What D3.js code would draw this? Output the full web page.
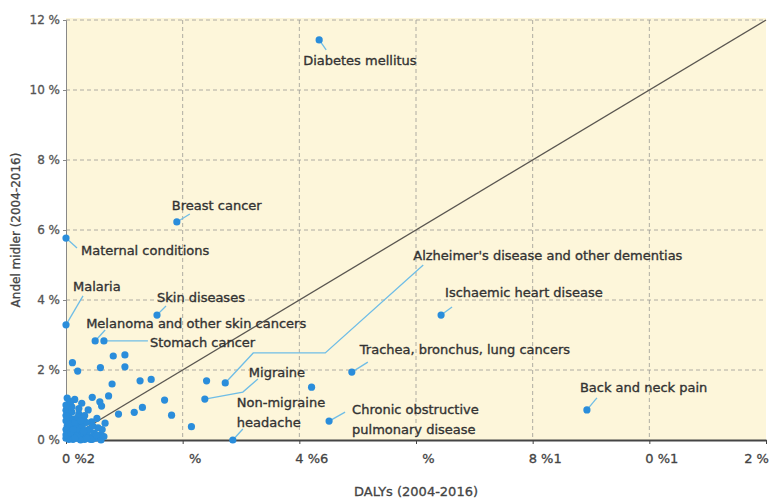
<!DOCTYPE html>
<html>
<head>
<meta charset="utf-8">
<script src="https://cdn.jsdelivr.net/npm/d3@7"></script>
<style>
  body { margin: 0; background: #fff; }
  text { font-family: "DejaVu Sans", "Noto Sans", sans-serif; }
</style>
</head>
<body>
<div id="viz"></div>
<script>
const margin = {top: 20, right: 9, bottom: 64, left: 66};
const width = 775;
const height = 504;

// tick labels as printed in the source
const xTicks = [0, 2, 4, 6, 8, 10, 12];
const xTickLabels = ['0 %2', '%', '4 %6', '%', '8 %1', '0 %1', '2 %'];
const yTicks = [0, 2, 4, 6, 8, 10, 12];
const yTickLabels = ['0 %', '2 %', '4 %', '6 %', '8 %', '10 %', '12 %'];

// labelled diseases
const names = ['Diabetes mellitus', 'Breast cancer', 'Maternal conditions', 'Malaria', 'Skin diseases',
  'Melanoma and other skin cancers', 'Stomach cancer', "Alzheimer's disease and other dementias",
  'Migraine', 'Non-migraine headache', 'Trachea, bronchus, lung cancers',
  'Chronic obstructive pulmonary disease', 'Ischaemic heart disease', 'Back and neck pain'];
const namedX = [4.34, 1.90, 0.0, 0.0, 1.56, 0.50, 0.65, 2.73, 2.38, 2.86, 4.90, 4.51, 6.43, 8.93];
const namedY = [11.43, 6.23, 5.77, 3.29, 3.57, 2.83, 2.83, 1.63, 1.17, 0.0, 1.94, 0.54, 3.57, 0.86];

// unlabelled diseases
const otherX = [0.81, 1.01, 0.11, 0.20, 0.59, 1.01, 0.79, 1.27, 1.46, 0.73, 1.69, 1.81, 1.31, 1.17, 0.90,
  0.58, 0.45, 0.61, 0.38, 0.15, 0.27, 0.07, 0.53, 0.44, 0.38, 0.67, 0.55, 2.41, 4.21, 2.15,
  0.02, 0.05, 0.03, 0.08, 0.02, 0.10, 0.05, 0.15, 0.02, 0.10, 0.20, 0.30, 0.25, 0.40, 0.50, 0.35,
  0.20, 0.12, 0.18, 0.28, 0.30, 0.22, 0.05, 0.12, 0.45, 0.60, 0.62, 0.0, 0.0, 0.0, 0.0, 0.35, 0.10, 0.32,
  0.0, 0.05, 0.08, 0.15, 0.20, 0.25, 0.18, 0.40, 0.48, 0.55, 0.30, 0.05, 0.0, 0.10, 0.0, 0.60, 0.65,
  0.12, 0.22, 0.32, 0.42, 0.08, 0.15, 0.25, 0.02, 0.36, 0.46, 0.52];
const otherY = [2.40, 2.43, 2.21, 1.97, 2.07, 2.09, 1.60, 1.69, 1.73, 1.26, 1.14, 0.71, 0.93, 0.79, 0.74,
  1.09, 1.22, 0.97, 0.86, 1.16, 1.05, 1.00, 0.62, 0.52, 0.29, 0.48, 0.09, 1.69, 1.51, 0.38,
  0.90, 0.75, 0.60, 0.50, 0.40, 0.35, 0.25, 0.20, 0.15, 0.10, 0.05, 0.08, 0.15, 0.10, 0.05, 0.20,
  0.30, 0.60, 0.45, 0.40, 0.60, 0.75, 0.02, 0.02, 0.02, 0.15, 0.30, 0.05, 0.30, 0.55, 0.85, 0.50, 0.80, 0.02,
  0.15, 0.45, 0.20, 0.50, 0.65, 0.00, 0.12, 0.30, 0.20, 0.35, 0.25, 1.05, 0.70, 0.95, 1.00, 0.00, 0.10,
  0.30, 0.90, 0.70, 0.02, 1.10, 0.05, 0.55, 1.20, 0.05, 0.40, 0.15];

// label placement (pixels relative to the point): text start, text baseline, leader bends
const labelLayout = {
  'Diabetes mellitus': {tx: -16, ty: 25, leader: [[7, 10]]},
  'Breast cancer': {tx: -5, ty: -12, leader: [[13, -8]]},
  'Maternal conditions': {tx: 15, ty: 17, leader: [[11, 10]]},
  'Malaria': {tx: 7, ty: -34, leader: [[17, -29]]},
  'Skin diseases': {tx: 0, ty: -13, leader: [[9, -9]]},
  'Melanoma and other skin cancers': {tx: -9, ty: -13, leader: [[10, -11]]},
  'Stomach cancer': {tx: 46, ty: 6, leader: [[44, 0]]},
  "Alzheimer's disease and other dementias": {tx: 188, ty: -123, leader: [[28, -30], [100, -30], [198, -118]]},
  'Migraine': {tx: 44, ty: -22, leader: [[38, -7], [53, -20]]},
  'Non-migraine headache': {tx: 4, ty: -33, lines: ['Non-migraine', 'headache'], leader: [[10, -11]]},
  'Trachea, bronchus, lung cancers': {tx: 8, ty: -18, leader: [[16, -10]]},
  'Chronic obstructive pulmonary disease': {tx: 23, ty: -7, lines: ['Chronic obstructive', 'pulmonary disease'], leader: [[16, -9]]},
  'Ischaemic heart disease': {tx: 4, ty: -18, leader: [[11, -8]]},
  'Back and neck pain': {tx: -7, ty: -18, leader: [[10, -12]]}
};

const named = names.map((n, i) => ({name: n, x: namedX[i], y: namedY[i]}));
const others = otherX.map((x, i) => ({x: x, y: otherY[i]}));

const xScale = d3.scaleLinear().domain([0, 12]).range([margin.left, width - margin.right]);
const yScale = d3.scaleLinear().domain([0, 12]).range([height - margin.bottom, margin.top]);

const svg = d3.select('#viz').append('svg')
  .attr('width', width)
  .attr('height', height);

svg.append('rect')
  .attr('x', xScale(0))
  .attr('y', yScale(12) - 2)
  .attr('width', xScale(12) - xScale(0))
  .attr('height', yScale(0) - yScale(12) + 2)
  .attr('fill', '#fdf6da');

// grid
svg.append('g')
  .selectAll('line')
  .data(yTicks.filter(d => d > 0))
  .join('line')
  .attr('x1', xScale(0)).attr('x2', xScale(12))
  .attr('y1', d => yScale(d)).attr('y2', d => yScale(d))
  .attr('stroke', '#9a9a94').attr('stroke-width', 0.8).attr('stroke-dasharray', '4,3');

svg.append('g')
  .selectAll('line')
  .data(xTicks.filter(d => d > 0 && d < 12))
  .join('line')
  .attr('x1', d => xScale(d)).attr('x2', d => xScale(d))
  .attr('y1', yScale(12)).attr('y2', yScale(0))
  .attr('stroke', '#9a9a94').attr('stroke-width', 0.8).attr('stroke-dasharray', '4,3');

// axes
const yAxis = svg.append('g')
  .attr('transform', `translate(${xScale(0)},0)`)
  .call(d3.axisLeft(yScale).tickValues(yTicks).tickFormat((d, i) => yTickLabels[i]).tickSize(3));
yAxis.select('.domain').attr('stroke', '#888').attr('stroke-width', 1);
yAxis.selectAll('.tick line').attr('stroke', '#888');
yAxis.selectAll('text')
  .attr('fill', '#555').attr('font-size', 12).attr('font-family', '"DejaVu Sans"')
  .attr('stroke', '#555').attr('stroke-width', 0.3);

const xAxis = svg.append('g')
  .attr('transform', `translate(0,${yScale(0)})`)
  .call(d3.axisBottom(xScale).tickValues(xTicks).tickFormat((d, i) => xTickLabels[i]).tickSize(4).tickSizeOuter(0));
xAxis.select('.domain').attr('stroke', '#444').attr('stroke-width', 2.2);
xAxis.selectAll('.tick line').attr('stroke', '#444');
xAxis.selectAll('text')
  .attr('fill', '#444').attr('font-size', 13).attr('font-family', '"DejaVu Sans"')
  .attr('stroke', '#444').attr('stroke-width', 0.3)
  .attr('dy', '1.2em')
  .attr('dx', (d, i) => i === xTicks.length - 1 ? -10 : 12);

svg.append('text')
  .attr('x', (xScale(0) + xScale(12)) / 2)
  .attr('y', height - 8)
  .attr('text-anchor', 'middle')
  .attr('fill', '#444').attr('font-size', 13)
  .attr('stroke', '#444').attr('stroke-width', 0.3)
  .text('DALYs (2004-2016)');

svg.append('text')
  .attr('transform', `translate(20,${(yScale(0) + yScale(12)) / 2}) rotate(-90)`)
  .attr('text-anchor', 'middle')
  .attr('fill', '#444').attr('font-size', 12)
  .attr('stroke', '#444').attr('stroke-width', 0.3)
  .text('Andel midler (2004-2016)');

// diagonal y = x
svg.append('line')
  .attr('x1', xScale(0)).attr('y1', yScale(0))
  .attr('x2', xScale(12)).attr('y2', yScale(12))
  .attr('stroke', '#5a5650').attr('stroke-width', 1.3);

// leader lines
const line = d3.line();
svg.append('g')
  .selectAll('path')
  .data(named)
  .join('path')
  .attr('d', d => {
    const px = xScale(d.x), py = yScale(d.y);
    return line([[px, py]].concat(labelLayout[d.name].leader.map(p => [px + p[0], py + p[1]])));
  })
  .attr('fill', 'none')
  .attr('stroke', '#6fbde6')
  .attr('stroke-width', 1.3);

// points
svg.append('g')
  .selectAll('circle')
  .data(others.concat(named))
  .join('circle')
  .attr('cx', d => xScale(d.x))
  .attr('cy', d => yScale(d.y))
  .attr('r', 3.6)
  .attr('fill', '#2a8ddb');

// labels
const labels = svg.append('g')
  .selectAll('text')
  .data(named)
  .join('text')
  .attr('x', d => xScale(d.x) + labelLayout[d.name].tx)
  .attr('y', d => yScale(d.y) + labelLayout[d.name].ty)
  .attr('fill', '#333')
  .attr('stroke', '#333')
  .attr('stroke-width', 0.35)
  .attr('font-size', 13);

labels.each(function(d) {
  const t = d3.select(this);
  const parts = labelLayout[d.name].lines || [d.name];
  parts.forEach((p, i) => {
    t.append('tspan')
      .attr('x', xScale(d.x) + labelLayout[d.name].tx)
      .attr('dy', i === 0 ? 0 : 20)
      .text(p);
  });
});
</script>
</body>
</html>
